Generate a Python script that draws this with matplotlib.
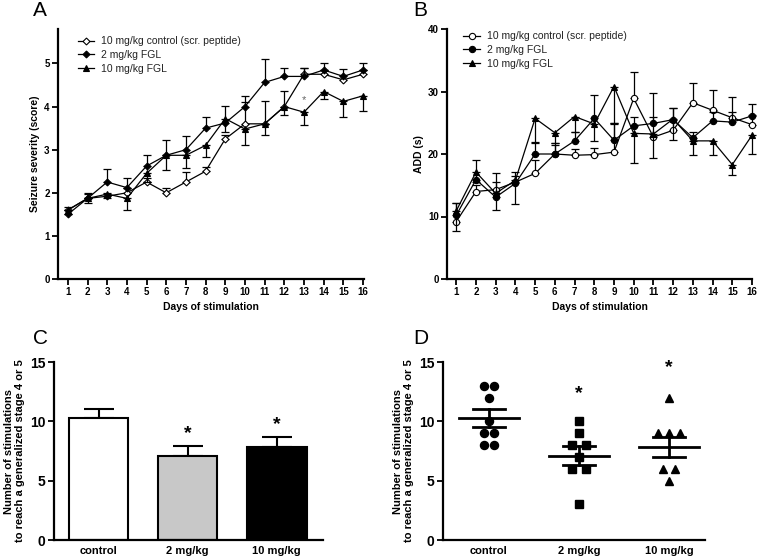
import matplotlib
matplotlib.use("Agg")
import matplotlib.pyplot as plt
import numpy as np

plt.rcParams['font.family'] = ['Liberation Sans', 'DejaVu Sans']

# ---------------- data ----------------
days = list(range(1, 17))
series_names = ["10 mg/kg control (scr. peptide)", "2 mg/kg FGL", "10 mg/kg FGL"]

# Panel A: seizure severity (score); control & 2 mg errors drawn upward, 10 mg downward
sev_ctrl = [1.60, 1.87, 1.92, 2.00, 2.25, 2.00, 2.25, 2.50, 3.25, 3.60, 3.60, 4.00, 4.75, 4.75, 4.62, 4.75]
sev_ctrl_err = [0.08, 0.10, 0.08, 0.10, 0.10, 0.10, 0.23, 0.10, 0.10, 0.50, 0.52, 0.37, 0.15, 0.10, 0.12, 0.10]
sev_2mg = [1.50, 1.87, 2.25, 2.12, 2.62, 2.87, 3.00, 3.50, 3.62, 4.00, 4.56, 4.70, 4.70, 4.85, 4.70, 4.85]
sev_2mg_err = [0.10, 0.12, 0.30, 0.22, 0.26, 0.35, 0.32, 0.25, 0.40, 0.25, 0.54, 0.20, 0.20, 0.15, 0.18, 0.15]
sev_10mg = [1.60, 1.87, 1.97, 1.87, 2.45, 2.87, 2.87, 3.10, 3.72, 3.48, 3.60, 4.00, 3.87, 4.35, 4.12, 4.25]
sev_10mg_err = [0.10, 0.10, 0.10, 0.28, 0.20, 0.35, 0.30, 0.28, 0.30, 0.37, 0.25, 0.20, 0.30, 0.17, 0.35, 0.35]

# Panel B: ADD (s)
add_ctrl = [9.2, 14.0, 14.3, 15.5, 16.9, 20.0, 19.8, 19.9, 20.3, 28.9, 22.7, 23.8, 28.2, 27.0, 25.8, 24.7]
add_ctrl_err = [2.9, 1.0, 1.2, 1.0, 2.2, 1.8, 1.0, 1.0, 4.6, 4.2, 7.0, 3.5, 3.2, 3.3, 3.3, 1.5]
add_2mg = [10.2, 15.9, 13.1, 15.3, 20.0, 20.0, 22.1, 25.7, 22.2, 24.5, 24.9, 25.5, 22.6, 25.3, 25.1, 26.1]
add_2mg_err = [1.9, 3.2, 3.9, 1.9, 2.0, 1.5, 1.5, 3.8, 2.8, 1.5, 1.0, 1.8, 0.9, 1.5, 1.7, 1.9]
add_10mg = [10.9, 17.1, 13.7, 15.8, 25.7, 23.4, 26.0, 24.8, 30.8, 23.3, 23.2, 25.6, 22.1, 22.1, 18.3, 23.0]
add_10mg_err = [3.2, 1.5, 2.6, 3.8, 3.9, 1.6, 2.4, 2.7, 6.0, 4.7, 3.9, 3.4, 2.2, 2.2, 1.6, 3.0]

# Panels C/D
groups = ["control", "2 mg/kg", "10 mg/kg"]
group_means = [10.25, 7.1, 7.85]
group_sems = [0.75, 0.78, 0.85]
bar_colors = ["white", "#c8c8c8", "black"]
pts_ctrl = [13, 13, 12, 10, 9, 9, 8, 8]
pts_2mg = [10, 9, 8, 8, 7, 6, 6, 3]
pts_10mg = [12, 9, 9, 9, 6, 6, 5]
jit_ctrl = [-0.06, 0.06, 0, 0, -0.06, 0.06, -0.06, 0.06]
jit_2mg = [0, 0, -0.08, 0.08, 0, -0.08, 0.08, 0]
jit_10mg = [0, -0.12, 0, 0.12, -0.065, 0.065, 0]

W, H = 757, 560
fig = plt.figure(figsize=(W / 100, H / 100), dpi=100)


def ax_px(left, right, top, bottom):
    return fig.add_axes([left / W, (H - bottom) / H, (right - left) / W, (bottom - top) / H])


def style(ax, tick_size):
    for s in ["top", "right"]:
        ax.spines[s].set_visible(False)
    for s in ["left", "bottom"]:
        ax.spines[s].set_linewidth(1.6)
    ax.tick_params(direction="out", length=4, width=1.3, labelsize=tick_size, pad=2)
    for lab in ax.get_xticklabels() + ax.get_yticklabels():
        lab.set_fontweight("bold")


lw = 0.9
directions = ["up", "up", "down"]


def draw_series(ax, vals, errs, name, mk, direction):
    e = np.array(errs)
    z = np.zeros_like(e)
    yerr = [z, e] if direction == "up" else [e, z]
    ax.errorbar(days, vals, yerr=yerr, fmt="none", ecolor="black", elinewidth=lw, capsize=3,
                capthick=lw, clip_on=False)
    ax.plot(days, vals, color="black", lw=lw, mec="black", mew=0.8, label=name, clip_on=False, **mk)


# ---------------- Panel A ----------------
axA = ax_px(58, 364, 29, 279)
mk_a = [dict(marker="D", mfc="white", ms=3.5), dict(marker="D", mfc="black", ms=3.5), dict(marker="^", mfc="black", ms=4.8)]
for vals, errs, name, mk, d in zip([sev_ctrl, sev_2mg, sev_10mg], [sev_ctrl_err, sev_2mg_err, sev_10mg_err],
                                   series_names, mk_a, directions):
    draw_series(axA, vals, errs, name, mk, d)
axA.set_xlim(0.5, 16.05)
axA.set_ylim(0, 5.8)
axA.set_xticks(days)
axA.set_yticks(range(0, 6))
style(axA, 7)
axA.set_ylabel("Seizure severity (score)", fontsize=7.5, fontweight="bold", labelpad=3)
axA.set_xlabel("Days of stimulation", fontsize=7.5, fontweight="bold", labelpad=3)
axA.text(13, 4.15, "*", ha="center", va="center", fontsize=8, color="#666666")
legA = axA.legend(loc="upper left", bbox_to_anchor=(0.04, 1.0), frameon=False, fontsize=7.5,
                  handlelength=1.6, handletextpad=0.7, labelspacing=0.35, borderaxespad=0.3)
for t in legA.get_texts():
    t.set_color("#222222")

# ---------------- Panel B ----------------
axB = ax_px(447, 752, 29, 279)
mk_b = [dict(marker="o", mfc="white", ms=4.5), dict(marker="o", mfc="black", ms=4.5), dict(marker="^", mfc="black", ms=5)]
for vals, errs, name, mk, d in zip([add_ctrl, add_2mg, add_10mg], [add_ctrl_err, add_2mg_err, add_10mg_err],
                                   series_names, mk_b, directions):
    draw_series(axB, vals, errs, name, mk, d)
axB.set_xlim(0.53, 16.0)
axB.set_ylim(0, 40)
axB.set_xticks(days)
axB.set_yticks(range(0, 41, 10))
style(axB, 7)
axB.set_ylabel("ADD (s)", fontsize=7.5, fontweight="bold", labelpad=3)
axB.set_xlabel("Days of stimulation", fontsize=7.5, fontweight="bold", labelpad=3)
legB = axB.legend(loc="upper left", bbox_to_anchor=(0.03, 1.02), frameon=False, fontsize=7.5,
                  handlelength=1.6, handletextpad=0.7, labelspacing=0.35, borderaxespad=0.3)
for t in legB.get_texts():
    t.set_color("#222222")

# ---------------- Panel C ----------------
axC = ax_px(54, 323, 362, 540)
x = np.arange(len(groups))
axC.bar(x, group_means, width=0.67, color=bar_colors, edgecolor="black", linewidth=1.5, zorder=2)
axC.errorbar(x, group_means, yerr=[np.zeros(3), group_sems], fmt="none", ecolor="black",
             elinewidth=1.5, capsize=11, capthick=1.5, zorder=1)
for xi, m, s in zip(x[1:], group_means[1:], group_sems[1:]):
    axC.text(xi, m + s + 0.35, "*", ha="center", va="bottom", fontsize=14, fontweight="bold")
axC.set_xlim(-0.5, 2.52)
axC.set_ylim(0, 15)
axC.set_xticks(x)
axC.set_xticklabels(groups)
axC.set_yticks([0, 5, 10, 15])
style(axC, 10)
axC.tick_params(axis="x", length=0, labelsize=8, pad=4)
for lab in axC.get_xticklabels():
    lab.set_fontweight("bold")
axC.set_ylabel("Number of stimulations\nto reach a generalized stage 4 or 5", fontsize=8,
               fontweight="bold", labelpad=4, linespacing=1.1)

# ---------------- Panel D ----------------
axD = ax_px(443, 705, 362, 540)
markers_d = ["o", "s", "^"]
for xi, pts, jit, mk in zip(x, [pts_ctrl, pts_2mg, pts_10mg], [jit_ctrl, jit_2mg, jit_10mg], markers_d):
    axD.plot(np.array(jit) + xi, pts, linestyle="none", marker=mk, color="black", ms=5.8, clip_on=False)
for xi, m, s in zip(x, group_means, group_sems):
    axD.plot([xi - 0.335, xi + 0.335], [m, m], color="black", lw=2)
    axD.plot([xi - 0.18, xi + 0.18], [m + s, m + s], color="black", lw=2)
    axD.plot([xi - 0.18, xi + 0.18], [m - s, m - s], color="black", lw=2)
    axD.plot([xi, xi], [m - s, m + s], color="black", lw=2)
axD.text(1, 11.6, "*", ha="center", va="bottom", fontsize=14, fontweight="bold")
axD.text(2, 13.8, "*", ha="center", va="bottom", fontsize=14, fontweight="bold")
axD.set_xlim(-0.51, 2.4)
axD.set_ylim(0, 15)
axD.set_xticks(x)
axD.set_xticklabels(groups)
axD.set_yticks([0, 5, 10, 15])
style(axD, 10)
axD.tick_params(axis="x", length=0, labelsize=8, pad=4)
for lab in axD.get_xticklabels():
    lab.set_fontweight("bold")
axD.set_ylabel("Number of stimulations\nto reach a generalized stage 4 or 5", fontsize=8,
               fontweight="bold", labelpad=4, linespacing=1.1)

# Panel letters
for lbl, px, py in [("A", 33, 10), ("B", 413, 10), ("C", 33, 338), ("D", 413, 338)]:
    fig.text(px / W, 1 - py / H, lbl, fontsize=15, ha="left", va="center")

fig.savefig("out.png", dpi=100)
